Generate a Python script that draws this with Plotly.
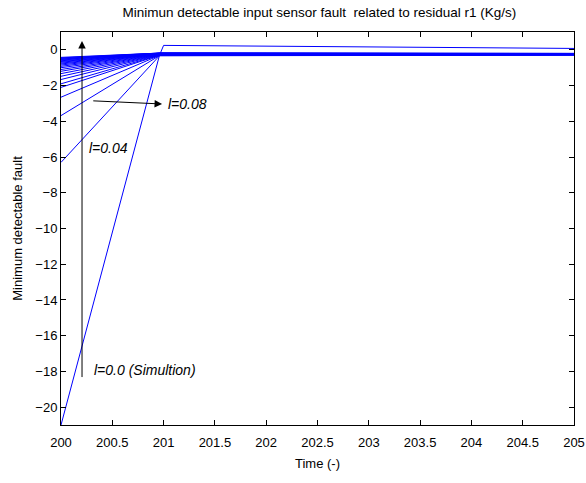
import plotly.graph_objects as go

# Data: start values at t=200 for each l-level line
start_vals = [-21.0, -6.3, -3.68, -2.65, -2.1, -1.9, -1.66, -1.48, -1.33, -1.2,
              -1.1, -1.0, -0.92, -0.85, -0.79, -0.74, -0.69, -0.65, -0.61, -0.57,
              -0.54, -0.51, -0.48, -0.45, -0.42]
mid_vals = [-0.30, -0.33, -0.32, -0.31, -0.30, -0.29, -0.28, -0.27, -0.26, -0.25,
            -0.24, -0.23, -0.22, -0.22, -0.21, -0.21, -0.20, -0.20, -0.20, -0.19,
            -0.19, -0.19, -0.18, -0.18, -0.18]
end_vals = [0.08, -0.30, -0.29, -0.28, -0.27, -0.27, -0.26, -0.26, -0.25, -0.25,
            -0.24, -0.24, -0.23, -0.23, -0.23, -0.22, -0.22, -0.22, -0.21, -0.21,
            -0.21, -0.21, -0.20, -0.20, -0.20]
t_start, t_mid, t_jump, t_end = 200.0, 200.96, 201.0, 205.0
jump_val = 0.25

x_tickvals = [200, 200.5, 201, 201.5, 202, 202.5, 203, 203.5, 204, 204.5, 205]
x_ticktext = ["200", "200.5", "201", "201.5", "202", "202.5", "203", "203.5", "204", "204.5", "205"]
y_tickvals = list(range(-20, 1, 2))

fig = go.Figure()
for i, (s, m, e) in enumerate(zip(start_vals, mid_vals, end_vals)):
    if i == 0:
        xs = [t_start, t_mid, t_jump, t_end]
        ys = [s, m, jump_val, e]
    else:
        xs = [t_start, t_mid, t_end]
        ys = [s, m, e]
    fig.add_trace(go.Scatter(x=xs, y=ys, mode="lines",
                             line=dict(color="#0000ff", width=1),
                             showlegend=False, hoverinfo="skip"))

FONT = "Liberation Sans, Arial"
afont = dict(family=FONT, size=14, color="black")
# vertical arrow
fig.add_annotation(x=200.205, y=0.5, ax=200.205, ay=-18.4, xref="x", yref="y",
                   axref="x", ayref="y", showarrow=True, arrowhead=2, arrowsize=1.5,
                   arrowwidth=1, arrowcolor="black", text="")
# horizontal arrow
fig.add_annotation(x=200.985, y=-3.03, ax=200.30, ay=-2.85, xref="x", yref="y",
                   axref="x", ayref="y", showarrow=True, arrowhead=2, arrowsize=1.5,
                   arrowwidth=1, arrowcolor="black", text="")
labels = [("<i>l=0.08</i>", 201.02, -3.03), ("<i>l=0.04</i>", 200.25, -5.5),
          ("<i>l=0.0 (Simultion)</i>", 200.30, -17.9)]
for txt, x, y in labels:
    fig.add_annotation(x=x, y=y, text=txt, showarrow=False, xanchor="left",
                       yanchor="middle", font=afont)

axis_common = dict(showline=True, linecolor="black", linewidth=1, mirror="ticks",
                   ticks="inside", ticklen=5, tickcolor="black", showgrid=False,
                   zeroline=False, ticklabeloverflow="allow", automargin=False,
                   tickfont=dict(family=FONT, size=13, color="black"))
fig.update_xaxes(range=[200, 205], tickvals=x_tickvals, ticktext=x_ticktext,
                 ticklabelstandoff=5,
                 title=dict(text="Time (-)", font=dict(family=FONT, size=13, color="black"), standoff=10),
                 **axis_common)
fig.update_yaxes(range=[-21, 1], tickvals=y_tickvals,
                 title=dict(text="Minimum detectable fault", font=dict(family=FONT, size=13, color="black"), standoff=9),
                 **axis_common)
fig.update_layout(width=586, height=483, margin=dict(l=61, r=12, t=32, b=58),
                  plot_bgcolor="white", paper_bgcolor="white",
                  title=dict(text="Minimun detectable input sensor fault  related to residual r1 (Kg/s)",
                             x=0.545, xanchor="center", y=0.975, yanchor="middle",
                             font=dict(family=FONT, size=13.5, color="black")))
fig.write_html("out.html")
